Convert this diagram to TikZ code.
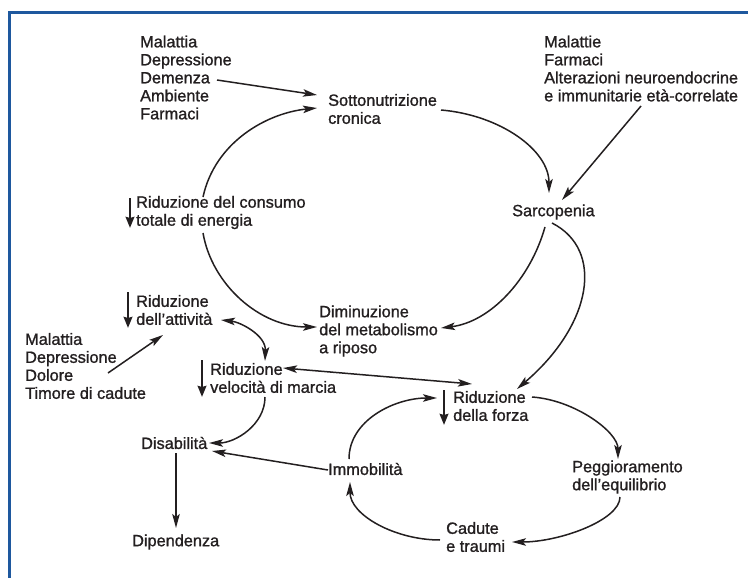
\documentclass[tikz,border=0pt]{standalone}
\usepackage{fontspec}
\setmainfont{Liberation Sans}[FakeBold=1.2]
\usetikzlibrary{arrows.meta}
\definecolor{frameblue}{RGB}{30,88,158}
\definecolor{ink}{RGB}{35,31,32}
\begin{document}
\begin{tikzpicture}[x=1pt,y=-1pt,
  font=\fontsize{16.3}{18}\selectfont,
  txt/.style={anchor=west, align=left, inner sep=0pt, text=ink},
  conn/.style={draw=ink, line width=1.5pt, -{Stealth[length=14pt,width=7.5pt,inset=3pt]}},
  both/.style={draw=ink, line width=1.5pt, {Stealth[length=14pt,width=7.5pt,inset=3pt]}-{Stealth[length=14pt,width=7.5pt,inset=3pt]}},
  down/.style={draw=ink, line width=2.5pt, -{Stealth[length=11pt,width=8.5pt,inset=1pt]}}]
\useasboundingbox (0,0) rectangle (748,578);
\draw[frameblue, line width=2.5pt] (9.5,578) -- (9.5,12.5) -- (748,12.5);

\node[txt] (mal1) at (140,77.5) {Malattia\\Depressione\\Demenza\\Ambiente\\Farmaci};
\node[txt] (sotto) at (328,109) {Sottonutrizione\\cronica};
\node[txt] (mal3) at (544,68.5) {Malattie\\Farmaci\\Alterazioni neuroendocrine\\e immunitarie età-correlate};
\node[txt] (sarc) at (512,212) {Sarcopenia};
\node[txt] (cons) at (136,212.5) {Riduzione del consumo\\totale di energia};
\node[txt] (attiv) at (136,310) {Riduzione\\dell’attività};
\node[txt] (mal2) at (25,366) {Malattia\\Depressione\\Dolore\\Timore di cadute};
\node[txt] (veloc) at (210,378) {Riduzione\\velocità di marcia};
\node[txt] (disab) at (141,443) {Disabilità};
\node[txt] (dip) at (132,542) {Dipendenza};
\node[txt] (dimin) at (319,331) {Diminuzione\\del metabolismo\\a riposo};
\node[txt] (forza) at (453,406) {Riduzione\\della forza};
\node[txt] (immob) at (328,469) {Immobilità};
\node[txt] (pegg) at (572,477) {Peggioramento\\dell’equilibrio};
\node[txt] (cad) at (446,537) {Cadute\\e traumi};

% down arrows
\draw[down] ([shift={(-6,-14.5)}]cons.west) -- ([shift={(-6,15.5)}]cons.west);
\draw[down] ([shift={(-8,-18)}]attiv.west) -- ([shift={(-8,18)}]attiv.west);
\draw[down] ([shift={(-8,-18)}]veloc.west) -- ([shift={(-8,19)}]veloc.west);
\draw[down] ([shift={(-9,-16)}]forza.west) -- ([shift={(-9,19)}]forza.west);

% connectors
\draw[conn] ([shift={(77,2.5)}]mal1.west) -- ([shift={(-11,-14)}]sotto.west);
\draw[conn] ([shift={(67,-15.5)}]cons.west) .. controls +(12,-55) and +(-50,5) .. ([shift={(-11,-1)}]sotto.west);
\draw[conn] ([shift={(113,1)}]sotto.west) .. controls +(59,5) and +(0,-43) .. ([shift={(37,-19)}]sarc.west);
\draw[conn] ([shift={(97,37.5)}]mal3.west) -- ([shift={(50,-12)}]sarc.west);
\draw[conn] ([shift={(67,20.5)}]cons.west) .. controls +(9,52) and +(-57,0) .. ([shift={(-2,-4)}]dimin.west);
\draw[conn] ([shift={(33,15)}]sarc.west) .. controls +(-15,53) and +(49,-6) .. ([shift={(122,-3)}]dimin.west);
\draw[conn] ([shift={(40,11)}]sarc.west) .. controls +(53,27) and +(75,-64) .. ([shift={(64,-17)}]forza.west);
\draw[both] ([shift={(73,-10)}]veloc.west) -- ([shift={(19,-22)}]forza.west);
\draw[both] ([shift={(85,10)}]attiv.west) .. controls +(19,2) and +(1,-26) .. ([shift={(55,-17)}]veloc.west);
\draw[conn] ([shift={(83,7)}]mal2.west) -- ([shift={(27,25)}]attiv.west);
\draw[conn] ([shift={(55,19)}]veloc.west) .. controls +(0,28) and +(26,0) .. ([shift={(68,0)}]disab.west);
\draw[conn] ([shift={(0,1)}]immob.west) -- ([shift={(71,8)}]disab.west);
\draw[conn] ([shift={(35,10)}]disab.west) -- ([shift={(44,-14)}]dip.west);
\draw[conn] ([shift={(21,-10)}]immob.west) .. controls +(0,-39) and +(-42,0) .. ([shift={(-16,-8)}]forza.west);
\draw[conn] ([shift={(79,-9)}]forza.west) .. controls +(43,3) and +(0,-27) .. ([shift={(46,-18)}]pegg.west);
\draw[conn] ([shift={(48,20)}]pegg.west) .. controls +(0,23) and +(48,0) .. ([shift={(66,5)}]cad.west);
\draw[conn] ([shift={(-6,3)}]cad.west) .. controls +(-45,0) and +(0,33) .. ([shift={(22,13)}]immob.west);
\end{tikzpicture}
\end{document}
